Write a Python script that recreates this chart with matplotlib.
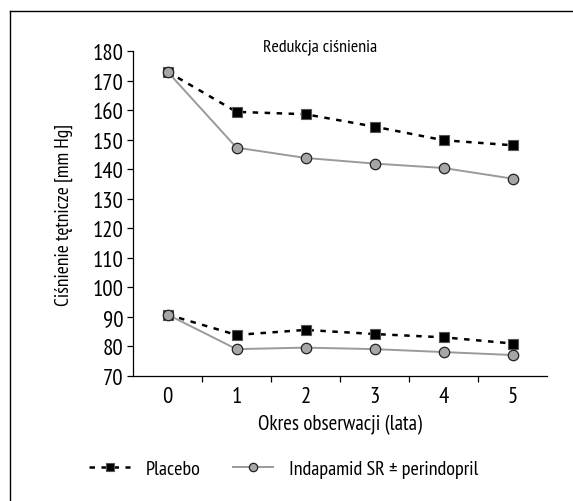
import matplotlib
matplotlib.use("Agg")
import matplotlib.pyplot as plt
from matplotlib.lines import Line2D
from matplotlib import font_manager

fl = font_manager.fontManager.ttflist
names = {f.name for f in fl}
cond = [f for f in fl if ('narrow' in f.fname.lower() or 'condensed' in f.fname.lower())
        and 'bold' not in f.fname.lower() and 'oblique' not in f.fname.lower()
        and 'italic' not in f.fname.lower()]
if 'Liberation Sans Narrow' in names:
    plt.rcParams['font.family'] = ['Liberation Sans Narrow', 'DejaVu Sans']
elif cond:
    pick = None
    for pref in ['sansnarrow', 'robotocondensed', 'dejavusanscondensed', 'condensed', 'narrow']:
        for f in cond:
            if pref in f.fname.lower().replace('-', '').replace('_', ''):
                pick = f
                break
        if pick:
            break
    if pick is None:
        pick = cond[0]
    font_manager.fontManager.addfont(pick.fname)
    plt.rcParams['font.family'] = [pick.name, 'DejaVu Sans']
    plt.rcParams['font.stretch'] = pick.stretch
else:
    plt.rcParams['font.family'] = ['Roboto', 'DejaVu Sans']

years = [0, 1, 2, 3, 4, 5]
tick_labels = ['0', '1', '2', '3', '4', '5']
placebo_sys = [173.0, 159.4, 158.6, 154.4, 149.8, 148.1]
placebo_dia = [90.8, 83.9, 85.6, 84.2, 83.1, 81.0]
inda_sys = [173.0, 147.3, 143.8, 141.9, 140.4, 136.8]
inda_dia = [90.8, 79.1, 79.6, 79.1, 78.1, 77.1]
yticks = [70, 80, 90, 100, 110, 120, 130, 140, 150, 160, 170, 180]

fig = plt.figure(figsize=(5.73, 5.02), dpi=100)
ax = fig.add_axes([133/573, 1-377/502, (547-133)/573, (377-52)/502])

pl_kw = dict(color='black', linestyle=(0, (2.2, 2.6)), linewidth=1.8,
             marker='s', markersize=7, markerfacecolor='black',
             markeredgecolor='#555555', markeredgewidth=0.8)
in_kw = dict(color='#9a9a9a', linestyle='-', linewidth=1.4,
             marker='o', markersize=7.5, markerfacecolor='#a6a6a6',
             markeredgecolor='#222222', markeredgewidth=0.9)

ax.plot(years, placebo_sys, **pl_kw, zorder=3)
ax.plot(years, placebo_dia, **pl_kw, zorder=3)
ax.plot(years, inda_sys, **in_kw, zorder=4)
ax.plot(years, inda_dia, **in_kw, zorder=4)

ax.set_xlim(-0.5, 5.5)
ax.set_ylim(70, 180)
ax.set_yticks(yticks)
ax.set_yticklabels([str(v) for v in yticks])
ax.set_xticks(years)
ax.set_xticklabels(tick_labels)
ax.set_xticks([0.5, 1.5, 2.5, 3.5, 4.5], minor=True)
ax.tick_params(axis='x', which='major', length=0, pad=7, labelsize=16.5)
ax.tick_params(axis='x', which='minor', length=4, width=0.9, direction='out')
ax.tick_params(axis='y', length=4, width=0.9, direction='out', pad=3, labelsize=16.5)
for s in ['top', 'right']:
    ax.spines[s].set_visible(False)
for s in ['left', 'bottom']:
    ax.spines[s].set_linewidth(0.9)
ax.patch.set_alpha(0)

ax.set_xlabel('Okres obserwacji (lata)', fontsize=15, labelpad=5)
ax.set_ylabel('Ciśnienie tętnicze [mm Hg]', fontsize=14, labelpad=14)
fig.text(320/573, 1-47/502, 'Redukcja ciśnienia', fontsize=13, ha='center', va='center')

# outer frame (only left and top visible)
fig.add_artist(Line2D([10/573, 10/573], [0, 1-12/502], transform=fig.transFigure, color='black', linewidth=1))
fig.add_artist(Line2D([10/573, 1], [1-12/502, 1-12/502], transform=fig.transFigure, color='black', linewidth=1))

h1 = Line2D([], [], **{**pl_kw, 'markersize': 6})
h2 = Line2D([], [], **{**in_kw, 'markersize': 6})
fig.legend([h1, h2], ['Placebo', 'Indapamid SR ± perindopril'],
           loc='center', bbox_to_anchor=(284/573, 1-470/502), ncol=2,
           frameon=False, fontsize=14.5, handlelength=2.0, columnspacing=1.6,
           handletextpad=0.8)

fig.savefig('out.png', dpi=100)
